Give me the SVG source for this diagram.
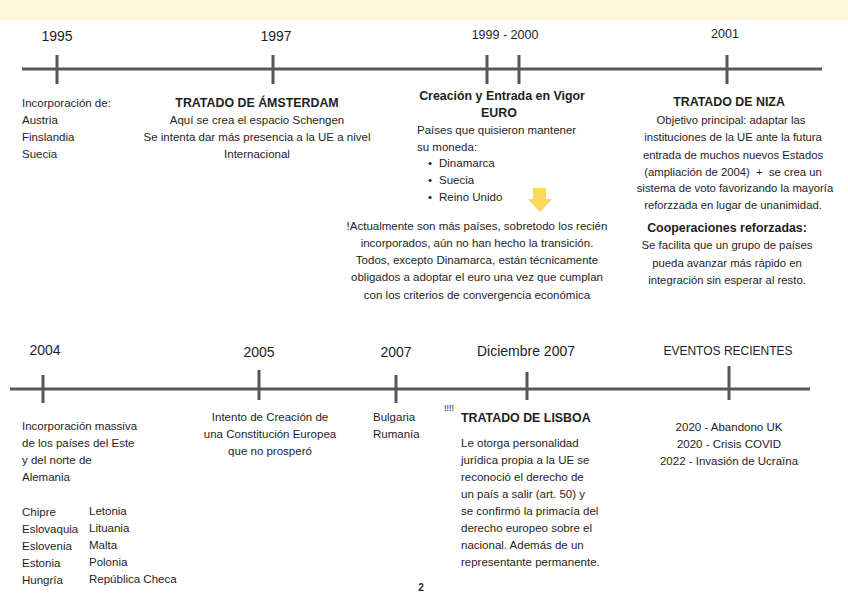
<svg xmlns="http://www.w3.org/2000/svg" width="848" height="615" viewBox="0 0 848 615">
<style>
text{font-family:"Liberation Sans",Arial,sans-serif;fill:#1e1e1e;font-size:11.5px}
.yr{font-size:14px}
.yrs{font-size:12.5px}
.b{font-weight:bold;font-size:12.4px}
.c{text-anchor:middle}
.nz{font-size:11.3px}
.ax{stroke:#575757;stroke-width:3.2;fill:none}
.tk{stroke:#575757;stroke-width:3;fill:none}
</style>
<rect x="0" y="0" width="848" height="20" fill="#fff6dc"/>
<g id="connectors">
<line class="ax" x1="22" y1="69" x2="822" y2="69"/>
<line class="ax" x1="10" y1="389" x2="810" y2="389"/>
</g>
<g id="n1995">
<line class="tk" x1="57" y1="55" x2="57" y2="84"/>
<text class="yr c" x="57" y="41">1995</text>
<text x="22" y="107">Incorporación de:</text>
<text x="22" y="124">Austria</text>
<text x="22" y="141">Finslandia</text>
<text x="22" y="158">Suecia</text>
</g>
<g id="n1997">
<line class="tk" x1="273" y1="55" x2="273" y2="84"/>
<text class="yr c" x="276" y="41">1997</text>
<text class="b c" x="257" y="107">TRATADO DE ÁMSTERDAM</text>
<text class="c" x="257" y="124">Aquí se crea el espacio Schengen</text>
<text class="c" x="257" y="141">Se intenta dar más presencia a la UE a nivel</text>
<text class="c" x="257" y="158">Internacional</text>
</g>
<g id="n1999">
<line class="tk" x1="487" y1="55" x2="487" y2="84"/>
<line class="tk" x1="519" y1="55" x2="519" y2="84"/>
<text class="yrs c" x="505" y="39">1999 - 2000</text>
<text class="b c" x="502" y="100">Creación y Entrada en Vigor</text>
<text class="b c" x="499" y="117">EURO</text>
<text x="417" y="134">Países que quisieron mantener</text>
<text x="417" y="151">su moneda:</text>
<text x="428" y="167">•</text><text x="439" y="167">Dinamarca</text>
<text x="428" y="184">•</text><text x="439" y="184">Suecia</text>
<text x="428" y="201">•</text><text x="439" y="201">Reino Unido</text>
<path d="M533 188 H546 V199 H552 L540 212 L528 199 H533 Z" fill="#ffd95a"/>
<text class="c" x="477" y="230">!Actualmente son más países, sobretodo los recién</text>
<text class="c" x="477" y="247">incorporados, aún no han hecho la transición.</text>
<text class="c" x="477" y="264">Todos, excepto Dinamarca, están técnicamente</text>
<text class="c" x="477" y="281">obligados a adoptar el euro una vez que cumplan</text>
<text class="c" x="477" y="299">con los criterios de convergencia económica</text>
</g>
<g id="n2001">
<line class="tk" x1="727" y1="55" x2="727" y2="84"/>
<text class="yrs c" x="725" y="38">2001</text>
<text class="b c" x="729" y="106">TRATADO DE NIZA</text>
<text class="c nz" x="731" y="124">Objetivo principal: adaptar las</text>
<text class="c nz" x="733" y="141">instituciones de la UE ante la futura</text>
<text class="c nz" x="733" y="159">entrada de muchos nuevos Estados</text>
<text class="c nz" x="733" y="176" xml:space="preserve">(ampliación de 2004)  +  se crea un</text>
<text class="c nz" x="735" y="192">sistema de voto favorizando la mayoría</text>
<text class="c nz" x="733" y="209">reforzzada en lugar de unanimidad.</text>
<text class="b c" x="727" y="232">Cooperaciones reforzadas:</text>
<text class="c nz" x="727" y="249">Se facilita que un grupo de países</text>
<text class="c nz" x="727" y="267">pueda avanzar más rápido en</text>
<text class="c nz" x="727" y="284">integración sin esperar al resto.</text>
</g>
<g id="n2004">
<line class="tk" x1="43" y1="375" x2="43" y2="403"/>
<text class="yr c" x="45" y="355">2004</text>
<text x="22" y="430">Incorporación massiva</text>
<text x="22" y="447">de los países del Este</text>
<text x="22" y="464">y del norte de</text>
<text x="22" y="481">Alemania</text>
<text x="22" y="516">Chipre</text>
<text x="22" y="533">Eslovaquia</text>
<text x="22" y="550">Eslovenia</text>
<text x="22" y="567">Estonia</text>
<text x="22" y="584">Hungría</text>
<text x="89" y="515">Letonia</text>
<text x="89" y="532">Lituania</text>
<text x="89" y="549">Malta</text>
<text x="89" y="566">Polonia</text>
<text x="89" y="583">República Checa</text>
</g>
<g id="n2005">
<line class="tk" x1="259" y1="370" x2="259" y2="400"/>
<text class="yr c" x="259" y="357">2005</text>
<text class="c" x="270" y="421">Intento de Creación de</text>
<text class="c" x="270" y="438">una Constitución Europea</text>
<text class="c" x="270" y="455">que no prosperó</text>
</g>
<g id="n2007">
<line class="tk" x1="396" y1="375" x2="396" y2="403"/>
<text class="yr c" x="396" y="357">2007</text>
<text x="373" y="421">Bulgaria</text>
<text x="373" y="438">Rumanía</text>
</g>
<g id="n2007dic">
<line class="tk" x1="527" y1="372" x2="527" y2="400"/>
<text class="yr c" x="526" y="356">Diciembre 2007</text>
<text x="444" y="411" style="font-size:9px">!!!!</text>
<text class="b" x="461" y="422">TRATADO DE LISBOA</text>
<text x="461" y="447">Le otorga personalidad</text>
<text x="461" y="464">jurídica propia a la UE se</text>
<text x="461" y="481">reconoció el derecho de</text>
<text x="461" y="498">un país a salir (art. 50) y</text>
<text x="461" y="515">se confirmó la primacía del</text>
<text x="461" y="532">derecho europeo sobre el</text>
<text x="461" y="549">nacional. Además de un</text>
<text x="461" y="566">representante permanente.</text>
</g>
<g id="nrecientes">
<line class="tk" x1="729" y1="366" x2="729" y2="400"/>
<text class="c" x="728" y="355" style="font-size:12px">EVENTOS RECIENTES</text>
<text class="c" x="729" y="431">2020 - Abandono UK</text>
<text class="c" x="729" y="448">2020 - Crisis COVID</text>
<text class="c" x="729" y="465">2022 - Invasión de Ucraïna</text>
</g>
<text x="421" y="591" style="font-size:10px;font-weight:bold;text-anchor:middle">2</text>
</svg>
